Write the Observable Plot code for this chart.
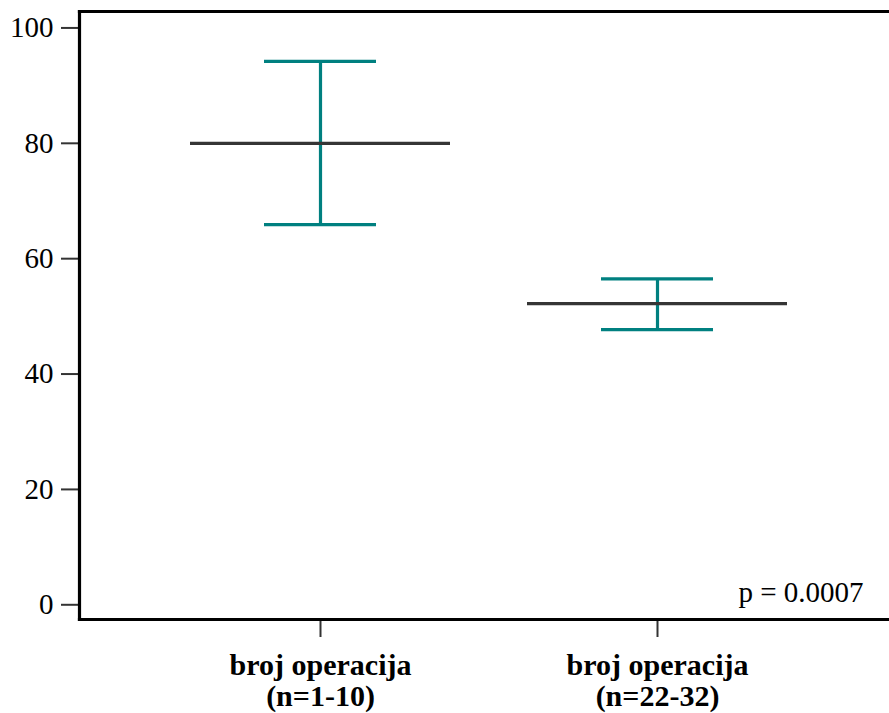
<!DOCTYPE html>
<html>
<head>
<meta charset="utf-8">
<script src="https://cdn.jsdelivr.net/npm/d3@7"></script>
<script src="https://cdn.jsdelivr.net/npm/@observablehq/plot@0.6"></script>
<style>
  html, body { margin: 0; padding: 0; background: #fff; }
  #chart { width: 889px; height: 713px; }
  #chart svg text { font-family: 'Liberation Serif', 'Times New Roman', serif !important; }
</style>
</head>
<body>
<div id="chart"></div>
<script>
// Data
const groups = ["g1", "g2"];
const groupLabels = ["broj operacija\n(n=1-10)", "broj operacija\n(n=22-32)"];
const means = [80, 52.2];
const lowers = [65.9, 47.7];
const uppers = [94.2, 56.5];
const yTicks = [0, 20, 40, 60, 80, 100];
const pLabel = "p = 0.0007";

const data = groups.map((g, i) => ({g, mean: means[i], lower: lowers[i], upper: uppers[i]}));
const labelOf = Object.fromEntries(groups.map((g, i) => [g, groupLabels[i]]));

const teal = "#008080";
const dark = "#353535";
const font = "'Liberation Serif', 'Times New Roman', serif";

const chart = Plot.plot({
  width: 889,
  height: 713,
  marginLeft: 79,
  marginRight: 0,
  marginTop: 11,
  marginBottom: 94,
  style: {fontFamily: font, color: "#000", background: "#fff", fontSize: "29px"},
  x: {type: "band", domain: groups, paddingInner: 0.669, paddingOuter: 0.533, align: 0.511, label: null},
  y: {domain: [-2.55, 102.85], label: null},
  marks: [
    Plot.axisY({ticks: yTicks, tickSize: 18, tickPadding: 8, fontSize: 29, stroke: "#333", strokeWidth: 2, label: null}),
    Plot.axisX({tickSize: 18, tickPadding: 15, fontSize: 30, fontWeight: "bold", lineHeight: 1.04,
      stroke: "#333", strokeWidth: 2, tickFormat: d => labelOf[d], label: null}),
    Plot.frame({anchor: "left", stroke: "#000", strokeWidth: 3.2}),
    Plot.frame({anchor: "top", stroke: "#000", strokeWidth: 3.2}),
    Plot.frame({anchor: "bottom", stroke: "#000", strokeWidth: 3.2}),
    Plot.ruleX(data, {x: "g", y1: "lower", y2: "upper", stroke: teal, strokeWidth: 3.2}),
    Plot.tickY(data, {x: "g", y: "upper", stroke: teal, strokeWidth: 3.2}),
    Plot.tickY(data, {x: "g", y: "lower", stroke: teal, strokeWidth: 3.2}),
    Plot.tickY(data, {x: "g", y: "mean", stroke: dark, strokeWidth: 3.2, insetLeft: -74, insetRight: -74}),
    Plot.text([pLabel], {text: d => d, frameAnchor: "bottom-right", textAnchor: "end", lineAnchor: "bottom",
      dx: -26, dy: -18, fontSize: 29, fill: "#000"})
  ]
});
document.getElementById("chart").appendChild(chart);
</script>
</body>
</html>
